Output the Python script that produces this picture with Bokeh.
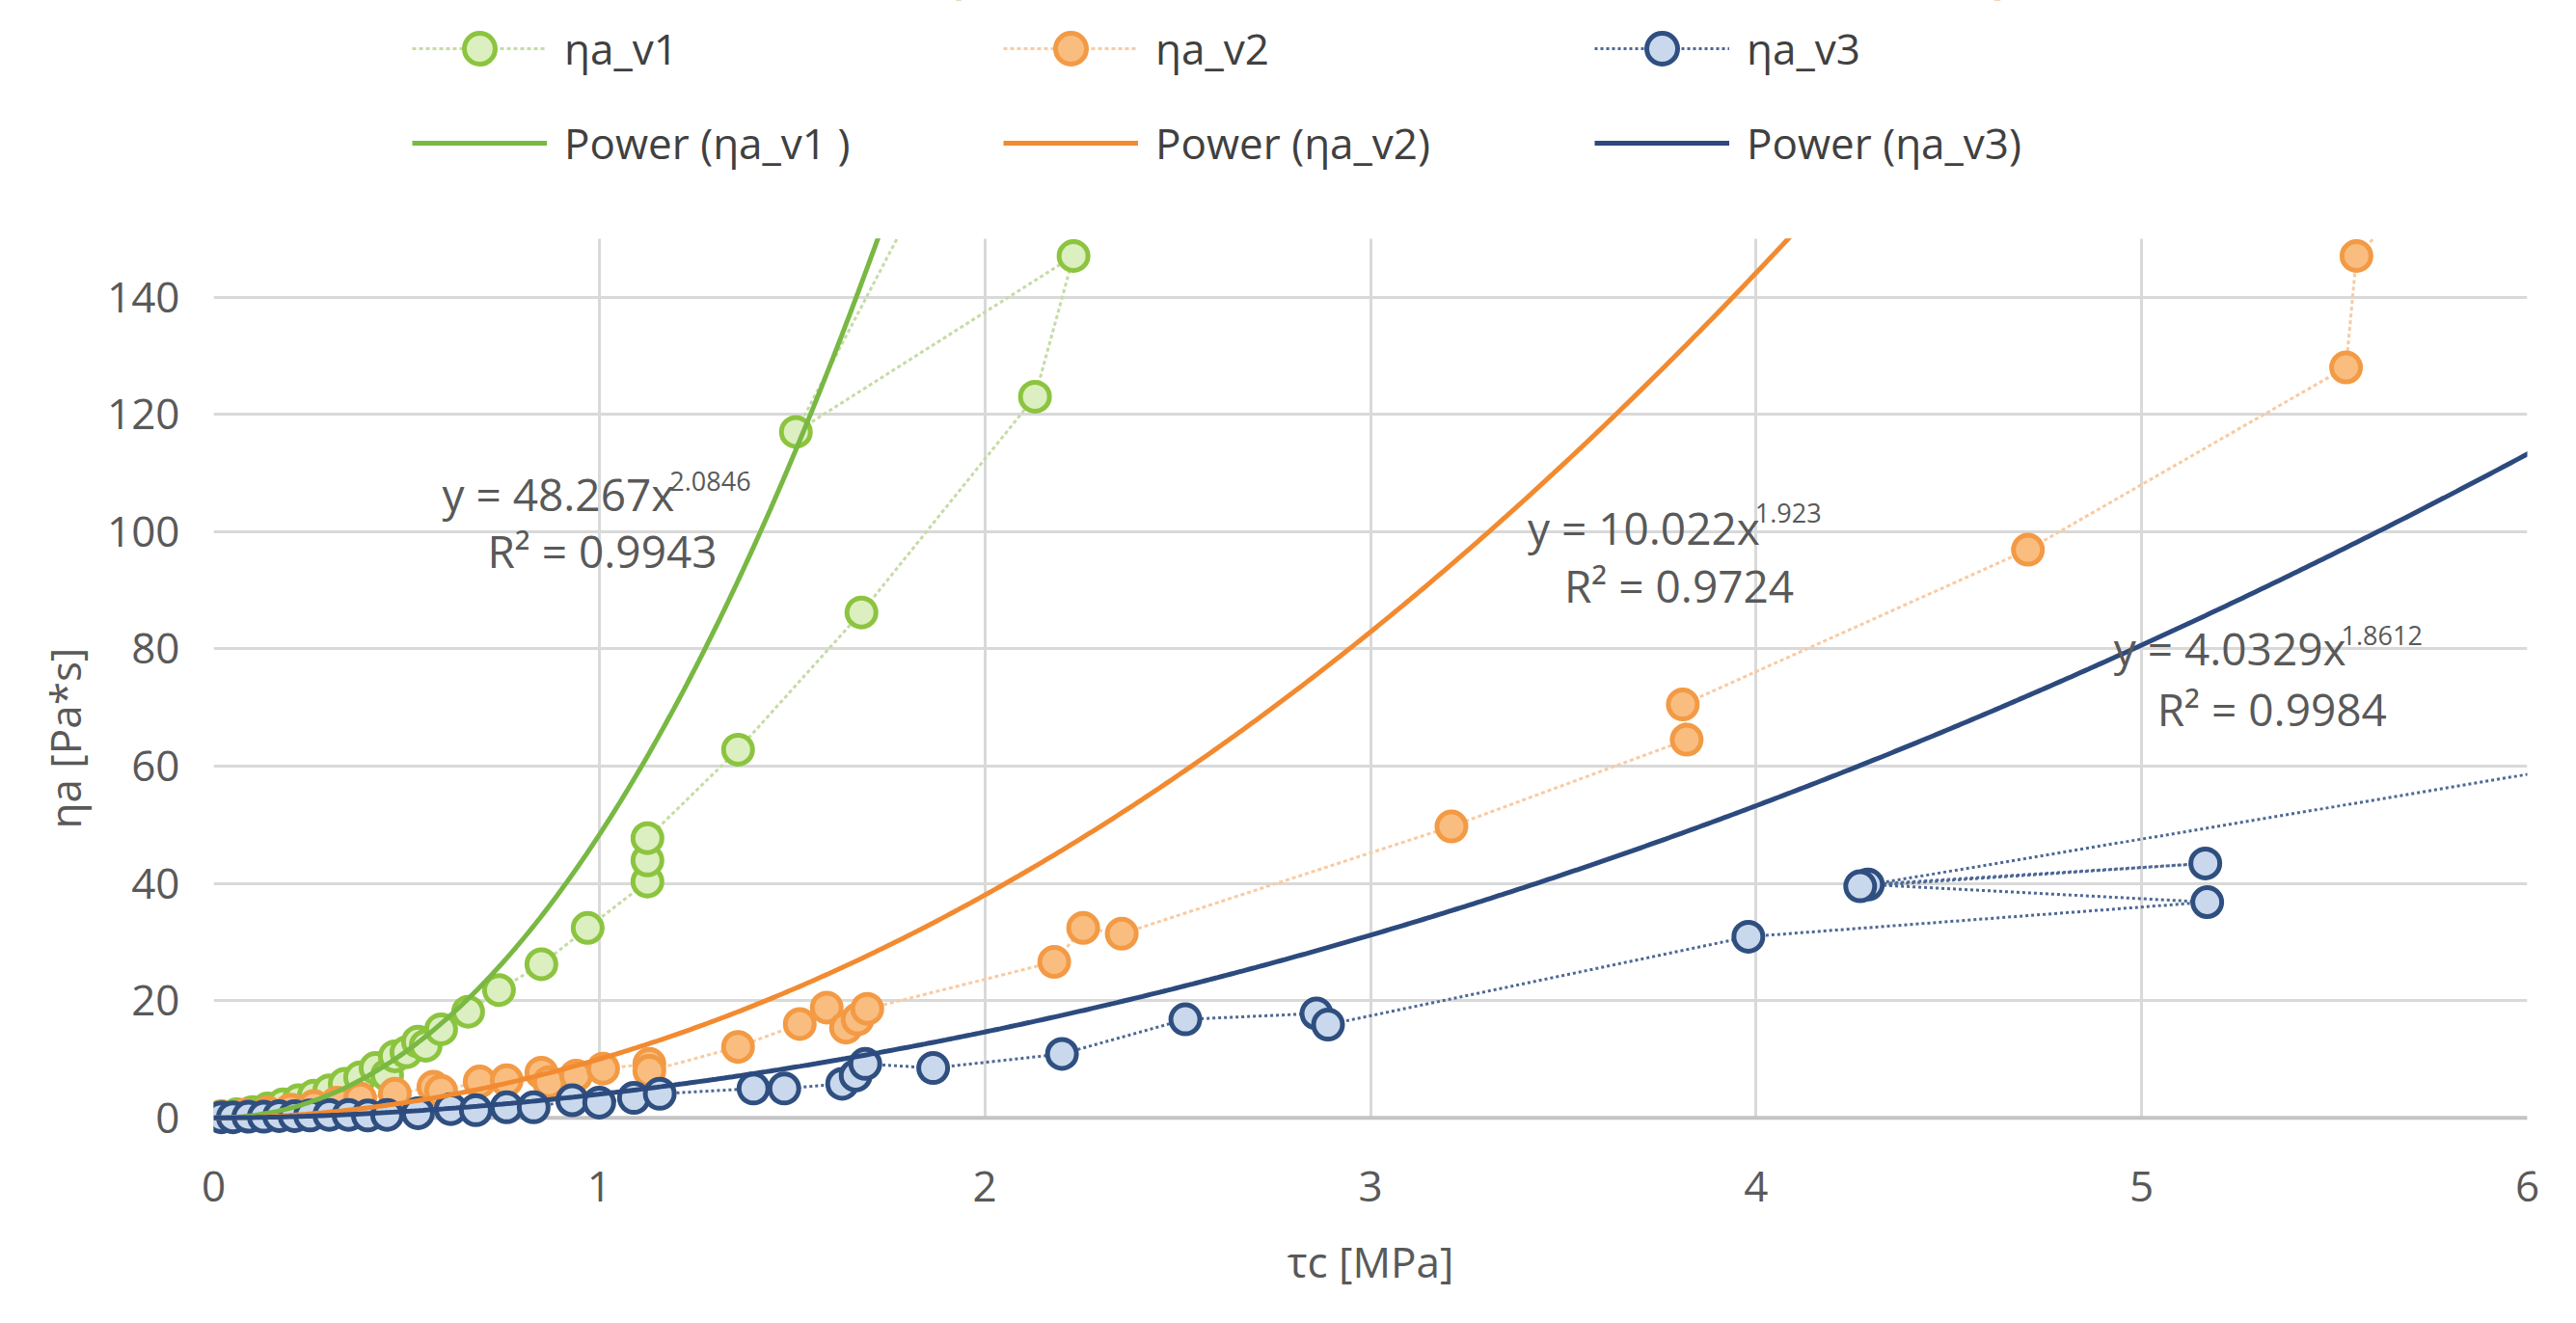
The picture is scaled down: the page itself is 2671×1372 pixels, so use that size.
import numpy as np
from bokeh.plotting import figure
from bokeh.models import (Range1d, FixedTicker, Legend, LegendItem, Label, Span,
                          BoxAnnotation, Title)
from bokeh.core.properties import value
from bokeh.embed import file_html
from bokeh.resources import INLINE

# ---------------- data ----------------
v1_x = [0.02, 0.06, 0.10, 0.14, 0.18, 0.22, 0.26, 0.30, 0.34, 0.38, 0.42, 0.45, 0.47, 0.50,
        0.53, 0.55, 0.59, 0.66, 0.74, 0.85, 0.97, 1.125, 1.125, 1.125, 1.36, 1.68, 2.13, 2.23,
        1.51, 1.90]
v1_y = [0.3, 0.6, 1.0, 1.6, 2.3, 3.0, 3.8, 4.7, 5.8, 6.9, 8.5, 7.3, 10.5, 11.2,
        13.0, 12.3, 15.1, 18.1, 21.8, 26.2, 32.4, 40.3, 43.9, 47.7, 62.8, 86.2, 123.0, 147.0,
        117.0, 166.0]

v2_x = [0.02, 0.08, 0.14, 0.20, 0.26, 0.32, 0.38, 0.47, 0.57, 0.59, 0.69, 0.76, 0.85, 0.87,
        0.94, 1.01, 1.13, 1.13, 1.36, 1.52, 1.59, 1.64, 1.67, 1.695, 2.18, 2.255, 2.355, 3.21,
        3.82, 3.81, 4.705, 5.53, 5.557, 5.75]
v2_y = [0.2, 0.5, 0.9, 1.4, 2.0, 2.6, 3.3, 4.1, 5.3, 4.6, 6.2, 6.4, 7.7, 6.1,
        7.2, 8.4, 9.2, 8.0, 12.1, 16.0, 18.8, 15.4, 16.8, 18.6, 26.6, 32.4, 31.4, 49.7,
        64.5, 70.5, 96.9, 128.0, 147.0, 160.0]

v3_x = [0.02, 0.05, 0.09, 0.13, 0.17, 0.21, 0.25, 0.30, 0.35, 0.40, 0.45, 0.53, 0.615, 0.68,
        0.76, 0.83, 0.93, 1.00, 1.09, 1.157, 1.40, 1.48, 1.63, 1.665, 1.69, 1.866, 2.20, 2.52,
        2.86, 2.89, 3.98, 5.17, 4.29, 5.165, 4.27, 6.40]
v3_y = [0.1, 0.1, 0.2, 0.2, 0.3, 0.3, 0.4, 0.5, 0.5, 0.4, 0.5, 0.8, 1.5, 1.3,
        1.8, 1.8, 3.0, 2.6, 3.4, 4.1, 5.0, 5.0, 5.8, 7.2, 9.2, 8.5, 10.9, 16.8,
        17.8, 15.9, 30.9, 36.8, 39.8, 43.4, 39.5, 63.0]

series_names = ["ηa_v1", "ηa_v2", "ηa_v3"]
trend_names = ["Power (ηa_v1 )", "Power (ηa_v2)", "Power (ηa_v3)"]
fit_a = [48.267, 10.022, 4.0329]
fit_b = [2.0846, 1.923, 1.8612]
fit_a_txt = ["48.267", "10.022", "4.0329"]
fit_b_txt = ["2.0846", "1.923", "1.8612"]
fit_r2_txt = ["0.9943", "0.9724", "0.9984"]

x_ticks = [0, 1, 2, 3, 4, 5, 6]
y_ticks = [0, 20, 40, 60, 80, 100, 120, 140]
y_top = 150   # visible top of the plotting area
x_title = "τc [MPa]"
y_title = "ηa [Pa*s]"

# ---------------- styling ----------------
FONT = "Open Sans"
TXT = "#595959"
marker_line = ["#8cc43f", "#f39a45", "#2f4f80"]
marker_fill = ["#dcefc0", "#f9bd80", "#c9d8ec"]
conn_color = ["#c5dca5", "#f8cba3", "#4d6894"]
conn_dash = ["4 3", "4 3", "3 3"]
trend_color = ["#78b843", "#f28a30", "#2c4a7e"]

W, H = 2655, 1356
B_LEFT, B_RIGHT, B_BOTTOM = 221, 35, 179
Y0 = -3
PX_PER_UNIT = 6.08
frame_h = H - B_BOTTOM
y_end = Y0 + frame_h / PX_PER_UNIT

p = figure(width=W, height=H, output_backend="svg", toolbar_location=None,
           x_range=Range1d(0, 6), y_range=Range1d(Y0, y_end),
           min_border_left=B_LEFT, min_border_right=B_RIGHT, min_border_top=0,
           min_border_bottom=B_BOTTOM)
p.outline_line_color = None
p.background_fill_color = "white"
p.border_fill_color = "white"

p.xaxis.ticker = FixedTicker(ticks=x_ticks)
p.yaxis.ticker = FixedTicker(ticks=y_ticks)
p.xaxis.axis_label = x_title
for ax in (p.xaxis[0], p.yaxis[0]):
    ax.axis_line_color = None
    ax.major_tick_line_color = None
    ax.minor_tick_line_color = None
    ax.major_tick_out = 0
    ax.major_tick_in = 0
    ax.major_label_text_font = FONT
    ax.major_label_text_font_size = "44px"
    ax.major_label_text_color = TXT
    ax.axis_label_text_font = FONT
    ax.axis_label_text_font_size = "44px"
    ax.axis_label_text_font_style = "normal"
    ax.axis_label_text_color = TXT
p.xaxis.major_label_standoff = 37
p.xaxis.axis_label_standoff = 29
p.yaxis.major_label_standoff = 35

# y-axis title as a left-side title, aligned to the visible 0..150 area
p.add_layout(Title(text=y_title, align="left", offset=318, vertical_align="middle",
                   standoff=22, text_font=FONT, text_font_size="44px",
                   text_font_style="normal", text_color=TXT), "left")

xg, yg = p.xgrid[0], p.ygrid[0]
for g in (xg, yg):
    g.grid_line_color = "#d9d9d9"
    g.grid_line_width = 3
if "cross_bounds" in xg.properties():
    xg.cross_bounds = (y_ticks[0], y_top)
    yg.cross_bounds = (x_ticks[0], x_ticks[-1])

p.add_layout(Span(location=0, dimension="width", line_color="#c4c4c4", line_width=4,
                  level="underlay"))

xs = [v1_x, v2_x, v3_x]
ys = [v1_y, v2_y, v3_y]
data_items = []
for i in range(3):
    ln = p.line(xs[i], ys[i], line_color=conn_color[i], line_width=3,
                line_dash=conn_dash[i])
    sc = p.scatter(xs[i], ys[i], size=30, marker="circle",
                   line_color=marker_line[i], line_width=5,
                   fill_color=marker_fill[i])
    data_items.append(LegendItem(label=value(series_names[i]), renderers=[ln, sc]))

trend_items = []
tx = np.linspace(0.0, 6.5, 600)
for i in range(3):
    ty = fit_a[i] * tx ** fit_b[i]
    tl = p.line(tx, ty, line_color=trend_color[i], line_width=5)
    trend_items.append(LegendItem(label=value(trend_names[i]), renderers=[tl]))

# white mask above the visible top of the plotting area
p.add_layout(BoxAnnotation(bottom=y_top, fill_color="white", fill_alpha=1.0,
                           line_color=None))

# equations (positions in data units)
eq_pos = [(0.5925, 106.4, 1.1825, 108.6, 0.71, 96.7),
          (3.4075, 100.7, 3.9975, 103.1, 3.5025, 90.8),
          (4.9275, 80.1, 5.5175, 82.2, 5.04, 69.7)]
for i in range(3):
    ex, ey, sx, sy, rx, ry = eq_pos[i]
    p.add_layout(Label(x=ex, y=ey, text="y = " + fit_a_txt[i] + "x",
                       text_font=FONT, text_font_size="46px", text_color=TXT,
                       text_baseline="middle", text_align="left"))
    p.add_layout(Label(x=sx, y=sy, text=fit_b_txt[i],
                       text_font=FONT, text_font_size="27px", text_color=TXT,
                       text_baseline="middle", text_align="left"))
    p.add_layout(Label(x=rx, y=ry, text="R² = " + fit_r2_txt[i],
                       text_font=FONT, text_font_size="46px", text_color=TXT,
                       text_baseline="middle", text_align="left"))

legend = Legend(items=data_items + trend_items, orientation="horizontal", ncols=3,
                location=(206, 989),
                glyph_width=140, glyph_height=80, label_standoff=18,
                label_width=437, label_height=80, spacing=18, padding=0, margin=0,
                border_line_color=None, background_fill_alpha=0,
                label_text_font=FONT, label_text_font_size="44px",
                label_text_color="#404040")
p.add_layout(legend)

open("out.html", "w").write(file_html(p, INLINE))
